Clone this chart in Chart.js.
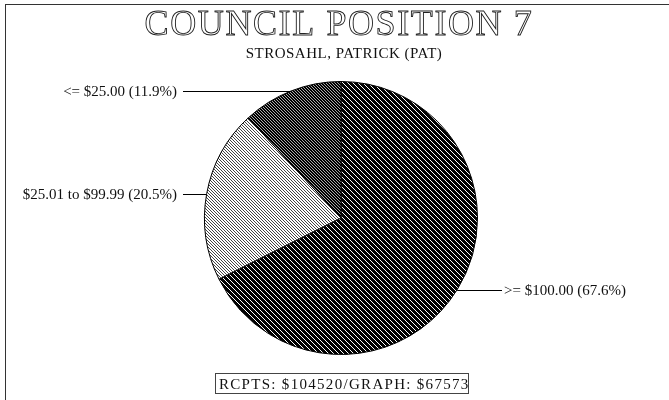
<!DOCTYPE html>
<html>
<head>
<meta charset="utf-8">
<script src="https://cdn.jsdelivr.net/npm/chart.js@4.4.1/dist/chart.umd.min.js"></script>
<style>
  html, body { margin: 0; padding: 0; background: #fff; }
  #wrap { position: relative; width: 669px; height: 400px; }
  #frame { position: absolute; left: 5px; top: 4px; right: 0; bottom: 0;
           border-top: 1px solid #333; border-left: 1px solid #333; pointer-events: none; }
</style>
</head>
<body>
<div id="wrap">
  <canvas id="chart" width="669" height="400"></canvas>
  <div id="frame"></div>
</div>
<script>
const chartTitle = "COUNCIL POSITION 7";
const candidate = "STROSAHL, PATRICK (PAT)";
const footerText = "RCPTS: $104520/GRAPH: $67573";
const categories = [">= $100.00", "$25.01 to $99.99", "<= $25.00"];
const shares = [67.6, 20.5, 11.9];

// little hatch tiles like the old plotter fills
function hatch(size, bg, fg) {
  const c = document.createElement("canvas");
  c.width = size; c.height = size;
  const g = c.getContext("2d");
  g.fillStyle = bg;
  g.fillRect(0, 0, size, size);
  g.fillStyle = fg;
  for (let i = 0; i < size; i++) g.fillRect(i, i, 1, 1);
  return g.createPattern(c, "repeat");
}

const fills = [
  hatch(5, "#000", "#fff"),
  hatch(3, "#fff", "#444"),
  hatch(3, "#000", "#aaa")
];

const textPlugin = {
  id: "oldText",
  afterDraw(chart) {
    const ctx = chart.ctx;
    ctx.save();
    // outlined title
    ctx.font = "36px 'Liberation Serif'";
    ctx.letterSpacing = "1.6px";
    ctx.textAlign = "center";
    ctx.textBaseline = "alphabetic";
    ctx.strokeStyle = "#222";
    ctx.lineWidth = 0.9;
    ctx.strokeText(chartTitle, 339, 35);

    ctx.fillStyle = "#111";
    ctx.font = "15px 'Liberation Serif'";
    ctx.letterSpacing = "0.5px";
    ctx.fillText(candidate, 344, 58);

    // slice labels with leader lines
    ctx.letterSpacing = "0px";
    ctx.font = "15px 'Liberation Serif'";
    const meta = chart.getDatasetMeta(0);
    meta.data.forEach((arc, i) => {
      const mid = (arc.startAngle + arc.endAngle) / 2;
      const px = arc.x + Math.cos(mid) * arc.outerRadius;
      const py = arc.y + Math.sin(mid) * arc.outerRadius;
      const left = Math.cos(mid) < 0;
      const endX = left ? 183 : 502;
      ctx.strokeStyle = "#000";
      ctx.lineWidth = 1;
      ctx.beginPath();
      ctx.moveTo(px, Math.round(py) + 0.5);
      ctx.lineTo(endX, Math.round(py) + 0.5);
      ctx.stroke();
      const label = categories[i] + " (" + shares[i].toFixed(1) + "%)";
      ctx.textAlign = left ? "right" : "left";
      ctx.textBaseline = "middle";
      ctx.fillText(label, left ? 177 : 504, Math.round(py) + 1);
    });

    // footer box
    ctx.strokeStyle = "#444";
    ctx.strokeRect(215.5, 373.5, 253, 20);
    ctx.textAlign = "left";
    ctx.textBaseline = "alphabetic";
    ctx.font = "15px 'Liberation Serif'";
    ctx.letterSpacing = "1.3px";
    ctx.fillText(footerText, 219, 389);
    ctx.restore();
  }
};

new Chart(document.getElementById("chart"), {
  type: "pie",
  data: {
    labels: categories,
    datasets: [{
      data: shares,
      backgroundColor: fills,
      borderColor: "#000",
      borderWidth: 1
    }]
  },
  options: {
    responsive: false,
    animation: false,
    layout: { padding: { top: 81, bottom: 45, left: 150, right: 137 } },
    plugins: {
      legend: { display: false },
      title: { display: false },
      tooltip: { enabled: false }
    }
  },
  plugins: [textPlugin]
});
</script>
</body>
</html>
